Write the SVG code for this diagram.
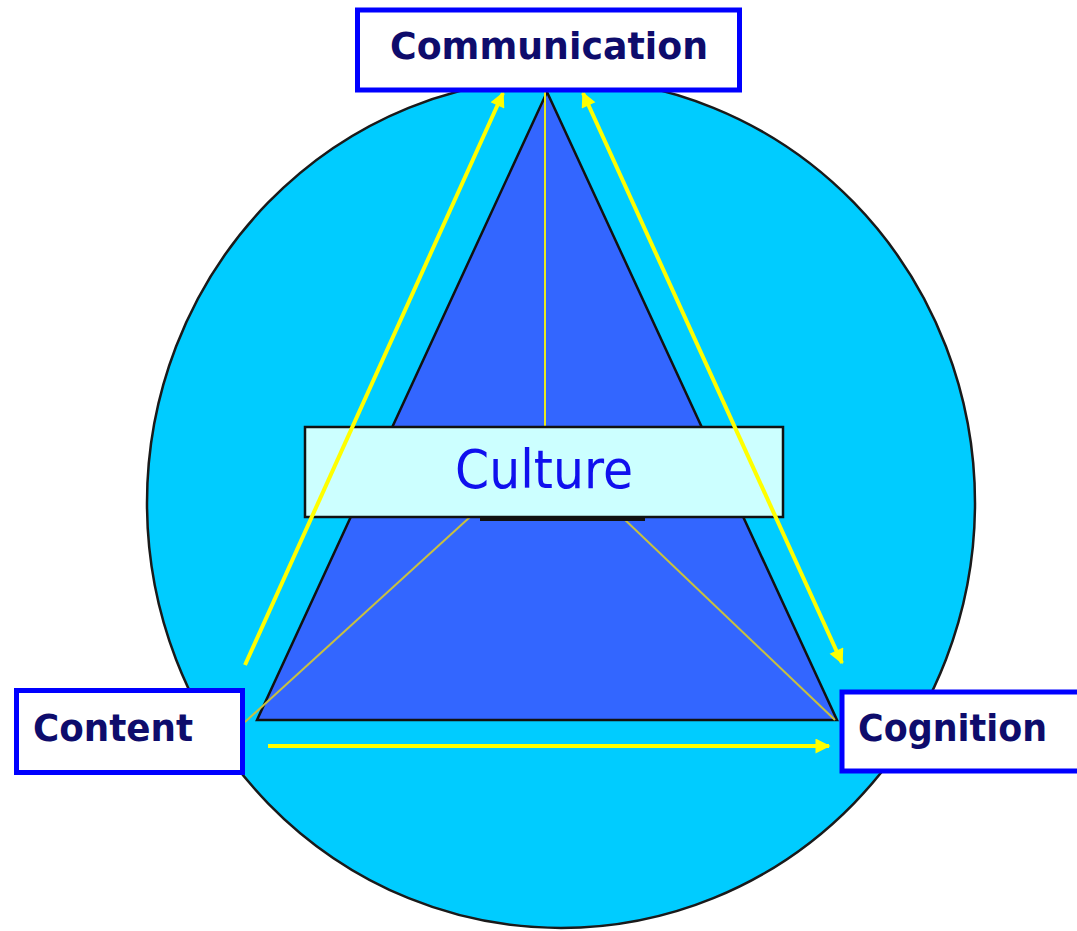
<svg xmlns="http://www.w3.org/2000/svg" width="1077" height="931" viewBox="0 0 1077 931">
  <style>
    .label-box { fill: #ffffff; stroke: #0000ff; stroke-width: 5; }
    .label-text { font-family: "DejaVu Sans", Verdana, sans-serif; font-weight: bold; font-size: 38px; fill: #0e0c6c; }
    .culture-text { font-family: "DejaVu Sans", Verdana, sans-serif; font-size: 53px; fill: #1010ee; }
    .flow { stroke: #ffff00; stroke-width: 4; fill: none; }
    .guide { stroke-width: 2; fill: none; }
  </style>
  <defs>
    <marker id="arrow-end" viewBox="0 0 10 10" refX="9" refY="5" markerWidth="21" markerHeight="15" markerUnits="userSpaceOnUse" orient="auto">
      <path d="M0,0 L10,5 L0,10 Z" fill="#ffff00"/>
    </marker>
    <marker id="arrow-start" viewBox="0 0 10 10" refX="1" refY="5" markerWidth="21" markerHeight="15" markerUnits="userSpaceOnUse" orient="auto">
      <path d="M10,0 L0,5 L10,10 Z" fill="#ffff00"/>
    </marker>
  </defs>

  <!-- background disc -->
  <g id="disc">
    <ellipse cx="561" cy="503" rx="414" ry="425" fill="#00ccff" stroke="#1a1a1a" stroke-width="2.5"/>
  </g>

  <!-- central triangle -->
  <g id="triangle">
    <polygon points="547,92 257,720 837,720" fill="#3366ff" stroke="#111111" stroke-width="2.5" stroke-linejoin="miter"/>
  </g>

  <!-- thin guide lines inside the triangle -->
  <g id="guides">
    <line class="guide" x1="545" y1="92" x2="545" y2="427" stroke="#e8e820"/>
    <line class="guide" x1="245" y1="722" x2="470" y2="517" stroke="#c8c040"/>
    <line class="guide" x1="835" y1="720" x2="622" y2="517" stroke="#c8c040"/>
  </g>

  <!-- Culture box -->
  <g id="culture">
    <rect x="480" y="515" width="165" height="6" fill="#111111"/>
    <rect x="305" y="427" width="478" height="90" fill="#ccffff" stroke="#111111" stroke-width="2.5"/>
    <text class="culture-text" x="544" y="488" text-anchor="middle" textLength="178" lengthAdjust="spacingAndGlyphs">Culture</text>
  </g>

  <!-- connectors -->
  <g id="connectors">
    <line class="flow" x1="245" y1="665" x2="503" y2="93" marker-end="url(#arrow-end)"/>
    <line class="flow" x1="268" y1="746" x2="829" y2="746" marker-end="url(#arrow-end)"/>
    <line class="flow" x1="583" y1="93" x2="842" y2="663" marker-start="url(#arrow-start)" marker-end="url(#arrow-end)"/>
  </g>

  <!-- Communication -->
  <g id="communication">
    <rect class="label-box" x="357.5" y="10" width="382" height="80"/>
    <text class="label-text" x="549" y="59" text-anchor="middle" textLength="318" lengthAdjust="spacingAndGlyphs">Communication</text>
  </g>

  <!-- Content -->
  <g id="content">
    <rect class="label-box" x="16.5" y="690.5" width="226" height="82"/>
    <text class="label-text" x="33" y="741" textLength="160" lengthAdjust="spacingAndGlyphs">Content</text>
  </g>

  <!-- Cognition -->
  <g id="cognition">
    <rect class="label-box" x="842" y="692" width="240" height="79"/>
    <text class="label-text" x="858" y="741" textLength="189" lengthAdjust="spacingAndGlyphs">Cognition</text>
  </g>
</svg>
